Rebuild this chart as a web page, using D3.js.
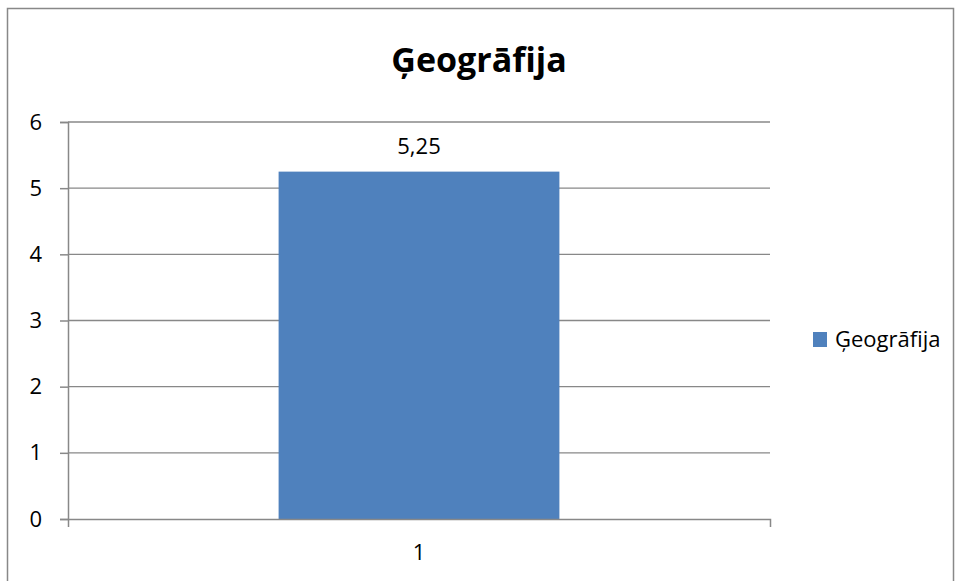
<!DOCTYPE html>
<html>
<head>
<meta charset="utf-8">
<script src="https://cdn.jsdelivr.net/npm/d3@7"></script>
<style>
  body { margin: 0; background: #fff; }
  text { font-family: "Open Sans", "Liberation Sans", sans-serif; fill: #000; }
</style>
</head>
<body>
<svg width="956" height="581"></svg>
<script>
// chart data
var categories = ["1"];
var values = [5.25];
var valueLabels = ["5,25"];
var yTicks = [0, 1, 2, 3, 4, 5, 6];
var seriesName = "Ģeogrāfija";
var title = "Ģeogrāfija";

var svg = d3.select("svg");

// outer frame
svg.append("rect")
	.attr("x", 7.5)
	.attr("y", 8.5)
	.attr("width", 946)
	.attr("height", 600)
	.attr("fill", "none")
	.attr("stroke", "#888888")
	.attr("stroke-width", 1.5);

var plotLeft = 68, plotRight = 770, plotTop = 122, plotBottom = 519;

var x = d3.scaleBand()
	.domain(categories)
	.range([plotLeft, plotRight])
	.paddingInner(0.6)
	.paddingOuter(0.3);

var y = d3.scaleLinear()
	.domain([0, 6])
	.range([plotBottom, plotTop]);

// gridlines
svg.append("g")
	.selectAll("line")
	.data(yTicks.filter(function(d) { return d > 0; }))
	.join("line")
	.attr("x1", plotLeft)
	.attr("x2", plotRight)
	.attr("y1", function(d) { return y(d); })
	.attr("y2", function(d) { return y(d); })
	.attr("stroke", "#888888")
	.attr("stroke-width", 1.3);

// bars
svg.append("g")
	.selectAll("rect")
	.data(values)
	.join("rect")
	.attr("x", function(d, i) { return x(categories[i]); })
	.attr("y", function(d) { return y(d); })
	.attr("width", x.bandwidth())
	.attr("height", function(d) { return y(0) - y(d); })
	.attr("fill", "#4f81bd");

// value labels
svg.append("g")
	.selectAll("text")
	.data(values)
	.join("text")
	.attr("x", function(d, i) { return x(categories[i]) + x.bandwidth() / 2; })
	.attr("y", function(d) { return y(d) - 18; })
	.attr("text-anchor", "middle")
	.style("font-size", "22px")
	.text(function(d, i) { return valueLabels[i]; });

// y axis
var yAxis = svg.append("g")
	.attr("transform", "translate(" + plotLeft + ",0)")
	.call(d3.axisLeft(y).tickValues(yTicks).tickSize(8).tickPadding(18).tickFormat(d3.format("d")));
yAxis.select(".domain").attr("stroke", "#888888").attr("stroke-width", 1.5);
yAxis.selectAll(".tick line").attr("stroke", "#888888").attr("stroke-width", 1.5);
yAxis.selectAll("text").style("font-size", "22px").attr("font-family", null);

// x axis
var xAxis = svg.append("g")
	.attr("transform", "translate(0," + plotBottom + ")")
	.call(d3.axisBottom(x).tickSize(0).tickSizeOuter(8).tickPadding(25));
xAxis.select(".domain").attr("stroke", "#888888").attr("stroke-width", 1.5);
xAxis.selectAll("text").style("font-size", "22px").attr("font-family", null);

// title
svg.append("text")
	.attr("x", 479)
	.attr("y", 72)
	.attr("text-anchor", "middle")
	.style("font-size", "34px")
	.style("font-weight", "bold")
	.text(title);

// legend
var legend = svg.append("g").attr("transform", "translate(813,332)");
legend.append("rect")
	.attr("width", 14)
	.attr("height", 15)
	.attr("fill", "#4f81bd");
legend.append("text")
	.attr("x", 22)
	.attr("y", 15)
	.style("font-size", "22px")
	.text(seriesName);
</script>
</body>
</html>
